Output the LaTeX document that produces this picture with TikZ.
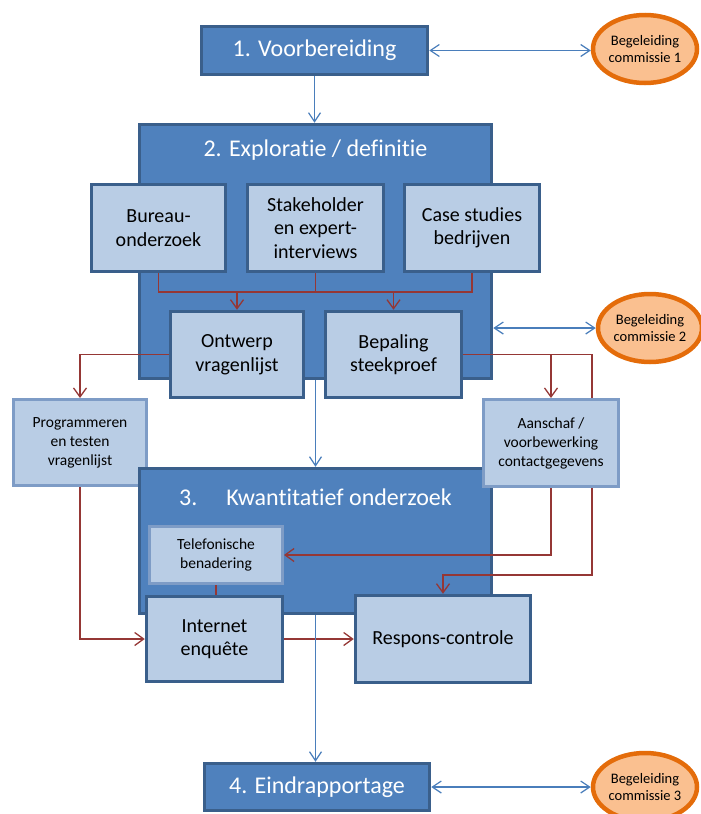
\documentclass[tikz,border=0pt]{standalone}
\usepackage{fontspec}
\setmainfont{Carlito}[Ligatures=NoCommon]
\usetikzlibrary{arrows.meta,shapes.geometric}
\definecolor{phasefill}{HTML}{4F81BD}
\definecolor{phaseline}{HTML}{3A5F8B}
\definecolor{taskfill}{HTML}{B9CDE5}
\definecolor{softline}{HTML}{7E9CC6}
\definecolor{comfill}{HTML}{FAC090}
\definecolor{comline}{HTML}{E46C0A}
\definecolor{flowred}{HTML}{953735}
\definecolor{flowblue}{HTML}{4A7EBB}
\begin{document}
\begin{tikzpicture}[x=1pt,y=-1pt,
 phase/.style={draw=phaseline,line width=3.5pt,fill=phasefill,text=white,font=\fontsize{24}{28}\selectfont,inner sep=0pt},
 phasetitle/.style={text=white,font=\fontsize{24}{28}\selectfont,inner sep=0pt},
 task/.style={draw=phaseline,line width=3.5pt,fill=taskfill,text=black,align=center,font=\fontsize{20}{23.5}\selectfont,inner sep=0pt},
 subtask/.style={draw=softline,line width=3pt,fill=taskfill,text=black,align=center,font=\fontsize{15.5}{19}\selectfont,inner sep=0pt},
 commissie/.style={ellipse,draw=comline,line width=4.5pt,fill=comfill,text=black,align=center,font=\fontsize{14.5}{17}\selectfont,inner sep=0pt,minimum width=104pt,minimum height=68pt},
 redflow/.style={draw=flowred,line width=1.3pt,-{Straight Barb[length=9pt,width=13pt]}},
 redline/.style={draw=flowred,line width=1.3pt},
 blueflow/.style={draw=flowblue,line width=1.2pt,-{Straight Barb[length=9pt,width=12pt]}},
 bluetwo/.style={draw=flowblue,line width=1.2pt,{Straight Barb[length=9pt,width=12pt]}-{Straight Barb[length=9pt,width=12pt]}}]
\useasboundingbox (0,0) rectangle (701,814);

\node[phase,minimum width=226pt,minimum height=48pt] (voor) at (314.5,50.5) {1. Voorbereiding};
\node[commissie] (bc1) at (645,49) {Begeleiding\\commissie 1};

\node[phase,minimum width=352pt,minimum height=254pt] (expl) at (315.5,251.5) {};
\node[phasetitle] (expltitle) at (315.5,150) {2. Exploratie / definitie};
\node[task,minimum width=134pt,minimum height=87pt] (bureau) at (158.5,228) {Bureau-\\onderzoek};
\node[task,minimum width=136pt,minimum height=87pt] (stake) at (315.5,228) {Stakeholder\\en expert-\\interviews};
\node[task,minimum width=135pt,minimum height=87pt] (case) at (472,228) {Case studies\\bedrijven};
\node[task,minimum width=133pt,minimum height=86pt] (ontwerp) at (237,354.5) {Ontwerp\\vragenlijst};
\node[task,minimum width=136pt,minimum height=86pt] (bepaling) at (393.5,354.5) {Bepaling\\steekproef};
\node[commissie] (bc2) at (650,328) {Begeleiding\\commissie 2};

\node[subtask,minimum width=133pt,minimum height=86pt] (prog) at (80,442.5) {Programmeren\\en testen\\vragenlijst};

\node[phase,minimum width=352pt,minimum height=145pt] (kwan) at (315.5,541) {};
\node[phasetitle] (kwantitle) at (315.5,497) {3.\hspace{29pt}Kwantitatief onderzoek};
\node[subtask,minimum width=133pt,minimum height=57pt] (telef) at (216,555) {Telefonische\\benadering};
\node[task,minimum width=136pt,minimum height=85pt] (inter) at (214.5,639) {Internet\\enquête};
\node[task,minimum width=175pt,minimum height=87pt] (respons) at (443,639) {Respons-controle};

\node[phase,minimum width=225pt,minimum height=47pt] (eind) at (317,787) {4. Eindrapportage};
\node[commissie] (bc3) at (645,787) {Begeleiding\\commissie 3};

\coordinate (bus) at (0,292);
\coordinate (bypass) at (592,575);

\draw[redline] (bureau.south) |- (case.south |- bus) -- (case.south);
\draw[redline] (stake.south) -- (stake.south |- bus);
\draw[redflow] (ontwerp.north |- bus) -- (ontwerp.north);
\draw[redflow] (bepaling.north |- bus) -- (bepaling.north);
\draw[redflow] (bepaling.east) -| (bypass) -| (respons.north);

\node[subtask,minimum width=135pt,minimum height=87pt] (aans) at (551,443) {Aanschaf /\\voorbewerking\\contactgegevens};

\draw[redflow] (ontwerp.west) -| (prog.north);
\draw[redflow] (bepaling.east) -| (aans.north);
\draw[redflow] (aans.south) |- (telef.east);
\draw[redflow] (prog.south) |- (inter.west);
\draw[redflow] (inter.east) -- (inter.east -| respons.west);
\draw[redline] (telef.south) -- (telef.south |- inter.north);

\draw[blueflow] (voor.south) -- (voor.south |- expl.north);
\draw[blueflow] (expl.south) -- (kwan.north);
\draw[blueflow] (kwan.south) -- (kwan.south |- eind.north);
\draw[bluetwo] (voor.east) -- (voor.east -| bc1.west);
\draw[bluetwo] (expl.east |- bc2.west) -- (bc2.west);
\draw[bluetwo] (eind.east) -- (bc3.west);
\end{tikzpicture}
\end{document}
